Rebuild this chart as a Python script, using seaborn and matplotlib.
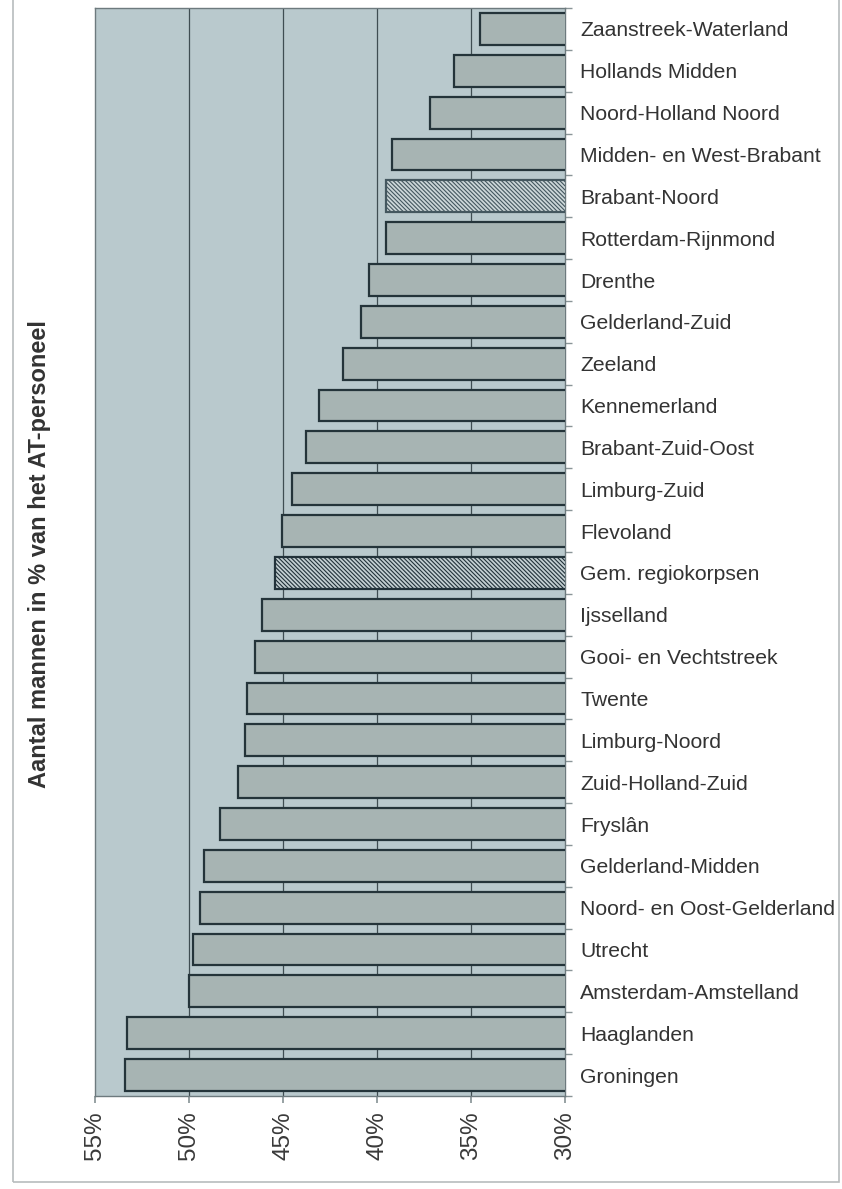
import matplotlib
matplotlib.use("Agg")
import matplotlib.pyplot as plt
from matplotlib.patches import Rectangle
import seaborn as sns
import pandas as pd

regions = ["Zaanstreek-Waterland", "Hollands Midden", "Noord-Holland Noord",
           "Midden- en West-Brabant", "Brabant-Noord", "Rotterdam-Rijnmond",
           "Drenthe", "Gelderland-Zuid", "Zeeland", "Kennemerland",
           "Brabant-Zuid-Oost", "Limburg-Zuid", "Flevoland", "Gem. regiokorpsen",
           "Ijsselland", "Gooi- en Vechtstreek", "Twente", "Limburg-Noord",
           "Zuid-Holland-Zuid", "Fryslân", "Gelderland-Midden",
           "Noord- en Oost-Gelderland", "Utrecht", "Amsterdam-Amstelland",
           "Haaglanden", "Groningen"]
pct_men = [34.5, 35.9, 37.2, 39.2, 39.5, 39.5, 40.4, 40.85, 41.8, 43.1,
           43.8, 44.5, 45.05, 45.4, 46.1, 46.5, 46.9, 47.0, 47.4, 48.35,
           49.2, 49.4, 49.8, 50.0, 53.3, 53.4]
xticks = [55, 50, 45, 40, 35, 30]
xtick_labels = ["55%", "50%", "45%", "40%", "35%", "30%"]
hatched = {"Brabant-Noord": "light", "Gem. regiokorpsen": "dark"}

df = pd.DataFrame({"regio": regions, "pct": pct_men})

sns.set_theme(style="white")
plt.rcParams["font.family"] = ["Liberation Sans", "DejaVu Sans"]
plt.rcParams["hatch.linewidth"] = 0.8

fig = plt.figure(figsize=(8.42, 11.89), dpi=100)
ax = fig.add_axes([95/842, 1-1096/1189, (565-95)/842, (1096-8)/1189])

bg = "#b9c9cd"
bar_c = "#a7b4b3"
edge_c = "#24343a"
ax.set_facecolor(bg)

sns.barplot(data=df, x="pct", y="regio", orient="h", color=bar_c,
            saturation=1, width=0.76, ax=ax, zorder=3)

for patch, name in zip(ax.patches, regions):
    patch.set_edgecolor(edge_c)
    patch.set_linewidth(1.6)
    if name in hatched:
        if hatched[name] == "light":
            patch.set_facecolor("#ccd6d8")
            patch.set_edgecolor("#44575f")
            patch.set_hatch("\\" * 8)
        else:
            patch.set_facecolor("#c3cfd2")
            patch.set_edgecolor("#22323a")
            patch.set_hatch("\\" * 8)

ax.set_xlim(55, 30)
ax.set_ylim(len(regions) - 0.5, -0.5)
ax.set_xticks(xticks)
ax.set_xticklabels(xtick_labels, rotation=90, fontsize=17.5, color="#3a3a3a")
for x in [50, 45, 40, 35]:
    ax.axvline(x, color="#3f4d52", lw=0.9, zorder=1)

ax.yaxis.tick_right()
ax.set_yticks(range(len(regions)))
ax.set_yticklabels(regions, fontsize=15.2, color="#333333")
ax.tick_params(axis="y", which="major", length=0, pad=11)
ax.set_yticks([i + 0.5 for i in range(-1, len(regions))], minor=True)
ax.tick_params(axis="y", which="minor", length=5, color="#8a9598", direction="out")
ax.tick_params(axis="x", which="major", length=5, color="#8a9598", direction="out", bottom=True, pad=6)
ax.set_xlabel("")
ax.set_ylabel("")
for s in ax.spines.values():
    s.set_color("#6d7a7e")
    s.set_linewidth(1.0)
    s.set_visible(True)

fig.text(40/842, 1-554/1189, "Aantal mannen in % van het AT-personeel",
         rotation=90, ha="center", va="center", fontsize=17,
         fontweight="bold", color="#333333")

fig.patches.append(Rectangle((13/842, 1-1182/1189), (839-13)/842, 1182/1189 + 0.02,
                             transform=fig.transFigure, fill=False,
                             edgecolor="#b8bcbe", lw=1.2, zorder=0))

fig.savefig("out.png", dpi=100, facecolor="white")
